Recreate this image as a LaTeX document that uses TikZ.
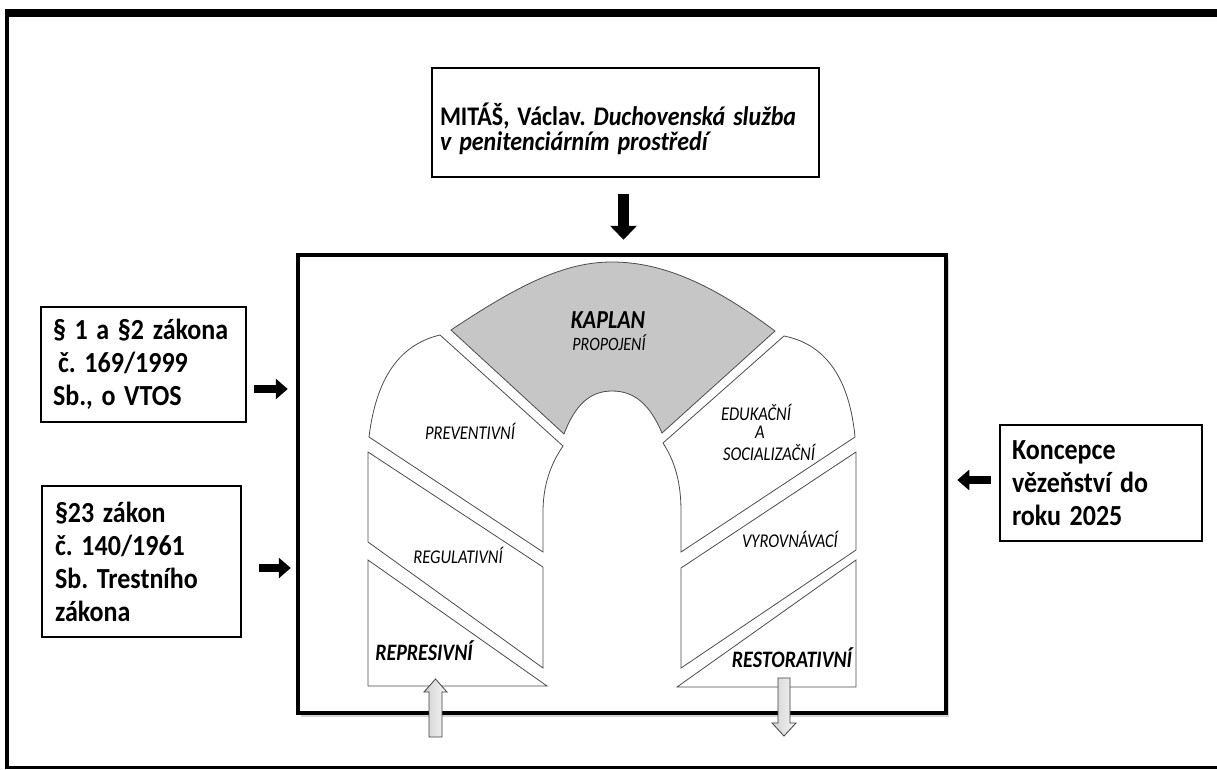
\documentclass[tikz,border=0pt]{standalone}
\usepackage{fontspec}
\setmainfont{Carlito}
\usetikzlibrary{arrows.meta,shadows}
\setlength{\lineskiplimit}{-40pt}
\frenchspacing
\newcommand{\tall}[1]{\scalebox{1}[1.18]{#1}}
\newcommand{\bxln}[1]{\scalebox{1}[1.12]{#1}}
\begin{document}
\begin{tikzpicture}[x=1pt,y=-1pt,
  srcbox/.style={draw=black, line width=2pt, fill=white, align=left, inner sep=0pt,
    font=\fontsize{26}{33}\selectfont\bfseries},
  blk/.style={line width=8pt, -{Triangle[length=12pt,width=20pt]}},
  region/.style={draw=black!70, line width=0.8pt, fill=white},
  lab/.style={anchor=base, inner sep=0pt, font=\fontsize{16.5}{18}\selectfont\itshape, text=black},
  blab/.style={anchor=base, inner sep=0pt, font=\fontsize{20}{22}\selectfont\bfseries\itshape},
  liteArrow/.style={draw=black!75, line width=0.8pt, left color=gray!35, right color=gray!8}
]
\useasboundingbox (0,0) rectangle (1217,770);
% outer frame
\draw[line width=8pt] (5,13) -- (1217,13);
\draw[line width=3.5pt] (7,9) -- (7,769);
\draw[line width=3pt] (5,767.5) -- (1217,767.5);

% main box
\node[draw, line width=4.5pt, fill=white, minimum width=648pt, minimum height=458pt, inner sep=0pt,
  drop shadow={opacity=0.35, shadow xshift=3pt, shadow yshift=-4pt}] (main) at (622,484) {};

% source boxes
\node[srcbox, minimum width=387pt, minimum height=109pt, text width=370pt,
  font=\fontsize{24}{25}\selectfont\bfseries] (top) at (625,122.5)
  {\rule{0pt}{36pt}\bxln{MITÁŠ, Václav. \textit{Duchovenská služba}}\\ \bxln{\textit{v penitenciárním prostředí}}};
\node[srcbox, minimum width=205pt, minimum height=115pt, text width=181pt] (b1) at (143.5,364.5)
  {\bxln{§ 1 a §2 zákona}\\ \hspace*{5pt}\bxln{č. 169/1999}\\ \bxln{Sb., o VTOS}};
\node[srcbox, minimum width=199pt, minimum height=151pt, text width=173pt] (b2) at (141.5,561.5)
  {\bxln{§23 zákon}\\ \bxln{č. 140/1961}\\ \bxln{Sb. Trestního}\\ \bxln{zákona}};
\node[srcbox, minimum width=202pt, minimum height=116pt, text width=178pt] (b3) at (1101,483)
  {\bxln{Koncepce}\\ \bxln{vězeňství do}\\ \bxln{roku 2025}};

% black arrows
\path ([shift={(7,24.5)}]b1.east) coordinate (a1s);
\path ([shift={(17,6.5)}]b2.east) coordinate (a2s);
\path ([shift={(-8,-3)}]b3.west) coordinate (a3s);
\path ([shift={(-1.5,16)}]top.south) coordinate (a4s);
\draw[blk] (a1s) -- ([xshift=-8pt]main.west |- a1s);
\draw[blk] (a2s) -- ([xshift=-5pt]main.west |- a2s);
\draw[blk] (a3s) -- ([xshift=9pt]main.east |- a3s);
\draw[blk, line width=11pt, -{Triangle[length=14pt,width=26pt]}] (a4s) -- ([yshift=13pt]main.north -| a4s);

% arch regions
\fill[gray!45, draw=black!70, line width=0.8pt] (451,330) .. controls (520,284) and (565,262) .. (612,262)
  .. controls (668,262) and (720,290) .. (775,331) -- (662,433)
  .. controls (650,405) and (635,391) .. (612,391)
  .. controls (590,391) and (575,405) .. (564,434) -- cycle;
\draw[region] (440,335) -- (563,446) .. controls (548,468) and (543,490) .. (543,512) -- (543,552)
  -- (369,437) .. controls (376,380) and (398,345) .. (440,335) -- cycle;
\draw[region] (784,336) -- (663,443) .. controls (678,466) and (681,490) .. (681,512) -- (681,552)
  -- (855,437) .. controls (850,385) and (830,345) .. (784,336) -- cycle;
\draw[region] (368,452) -- (543,567) -- (543,668) -- (368,542) -- cycle;
\draw[region] (368,560) -- (547,686) -- (368,686) -- cycle;
\draw[region] (681,568) -- (856,452) -- (856,550) -- (681,668) -- cycle;
\draw[region] (677,687) -- (856,560) -- (856,687) -- cycle;

% labels
\node[blab, font=\fontsize{22}{24}\selectfont\bfseries\itshape] (kaplan) at (608,328) {\tall{KAPLAN}};
\node[lab, font=\fontsize{16}{18}\selectfont\itshape] (propojeni) at (609,350) {\tall{PROPOJENÍ}};
\node[lab] (prev) at (470,439) {\tall{PREVENTIVNÍ}};
\node[lab] (reg) at (458,563) {\tall{REGULATIVNÍ}};
\node[blab] (rep) at (424,660) {\tall{REPRESIVNÍ}};
\node[lab] (edu) at (756,420) {\tall{EDUKAČNÍ}};
\node[lab] (edua) at (760,438) {\tall{A}};
\node[lab] (soc) at (769,460) {\tall{SOCIALIZAČNÍ}};
\node[lab] (vyr) at (790,547) {\tall{VYROVNÁVACÍ}};
\node[blab] (rest) at (792,667) {\tall{RESTORATIVNÍ}};

% light block arrows
\draw[liteArrow] (429,737) -- (429,692) -- (424,692) -- (435.5,679) -- (447,692) -- (442,692) -- (442,737) -- cycle;
\draw[liteArrow] (778,678) -- (790,678) -- (790,723) -- (796,723) -- (784,736) -- (772,723) -- (778,723) -- cycle;
\end{tikzpicture}
\end{document}
